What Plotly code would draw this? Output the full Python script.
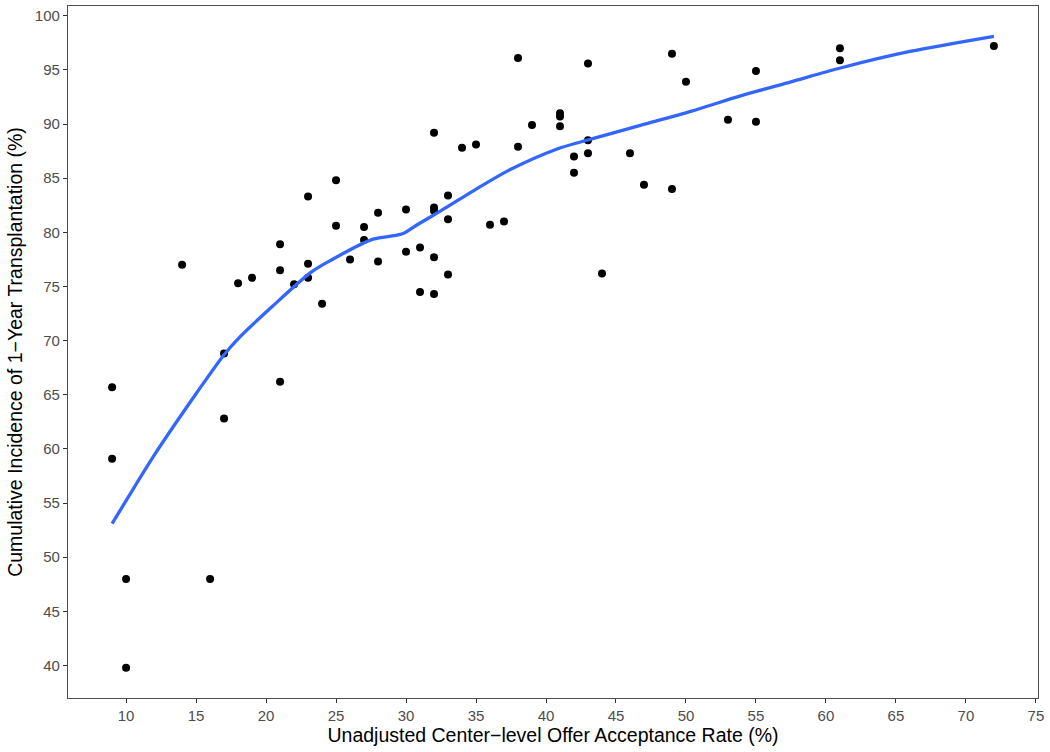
import plotly.graph_objects as go

# Scatter points: center-level offer acceptance rate (%) vs cumulative incidence (%)
acc_rate = [9, 9, 10, 10, 14, 16, 17, 17, 18, 19, 21, 21, 21, 22, 23, 23, 23, 24,
            25, 25, 26, 27, 27, 28, 28, 30, 30, 31, 31, 32, 32, 32, 32, 32,
            33, 33, 33, 34, 35, 36, 37, 38, 38, 39, 41, 41, 41, 42, 42,
            43, 43, 43, 44, 46, 47, 49, 49, 50, 53, 55, 55, 61, 61, 72]
incidence = [65.7, 59.1, 48.0, 39.8, 77.0, 48.0, 68.8, 62.8, 75.3, 75.8, 78.9, 76.5, 66.2, 75.2,
             83.3, 77.1, 75.8, 73.4, 84.8, 80.6, 77.5, 80.5, 79.3, 81.8, 77.3, 82.1, 78.2,
             78.6, 74.5, 89.2, 82.3, 82.0, 77.7, 74.3, 83.4, 81.2, 76.1, 87.8, 88.1, 80.7,
             81.0, 96.1, 87.9, 89.9, 91.0, 90.7, 89.8, 87.0, 85.5, 95.6, 88.5, 87.3,
             76.2, 87.3, 84.4, 96.5, 84.0, 93.9, 90.4, 94.9, 90.2, 97.0, 95.9, 97.2]

# Smoothed (loess) curve
smooth_x = [9, 10.6, 12, 13.5, 15, 17, 18.1, 20.4, 23.2, 24.6, 27.5, 28.7, 29.8, 30.8,
            32.5, 34.9, 37.3, 40.8, 43.2, 46.8, 50.4, 53.9, 57.5, 61.1, 66, 72]
smooth_y = [53.1, 56.5, 59.4, 62.3, 65.1, 68.7, 70.3, 73.1, 76.3, 77.4, 79.3, 79.6, 79.9, 80.7,
            82.0, 83.9, 85.7, 87.7, 88.6, 89.9, 91.2, 92.6, 93.9, 95.2, 96.7, 98.1]

x_ticks = list(range(10, 80, 5))
y_ticks = list(range(40, 105, 5))

font_family = "Liberation Sans, Arial, sans-serif"

fig = go.Figure()
fig.add_trace(go.Scatter(
    x=acc_rate, y=incidence, mode="markers",
    marker=dict(color="black", size=8, line=dict(width=0)),
    showlegend=False, hoverinfo="x+y"))
fig.add_trace(go.Scatter(
    x=smooth_x, y=smooth_y, mode="lines",
    line=dict(color="#3366FF", width=3.3, shape="spline", smoothing=0.8),
    showlegend=False, hoverinfo="skip"))

axis_common = dict(
    showgrid=False, zeroline=False, showline=True, mirror=True,
    linecolor="#4d4d4d", linewidth=1.3,
    ticks="outside", ticklen=4, tickwidth=1.3, tickcolor="#333333",
    tickfont=dict(family=font_family, size=15, color="#4D4D4D"),
)

fig.update_layout(
    width=1050, height=752,
    margin=dict(l=68, r=12, t=6, b=54),
    paper_bgcolor="white", plot_bgcolor="white",
    font=dict(family=font_family),
    xaxis=dict(
        range=[5.85, 75.15], tickvals=x_ticks, ticktext=[str(v) for v in x_ticks],
        title=dict(text="Unadjusted Center\u2212level Offer Acceptance Rate (%)",
                   font=dict(family=font_family, size=19.5, color="black"), standoff=3),
        **axis_common),
    yaxis=dict(
        range=[37.0, 100.9], tickvals=y_ticks, ticktext=[str(v) for v in y_ticks],
        title=dict(text="Cumulative Incidence of 1\u2212Year Transplantation (%)",
                   font=dict(family=font_family, size=19.5, color="black"), standoff=6),
        **axis_common),
)

fig.write_html("out.html", config={"displayModeBar": False},
               post_script="document.body.style.margin='0';")
